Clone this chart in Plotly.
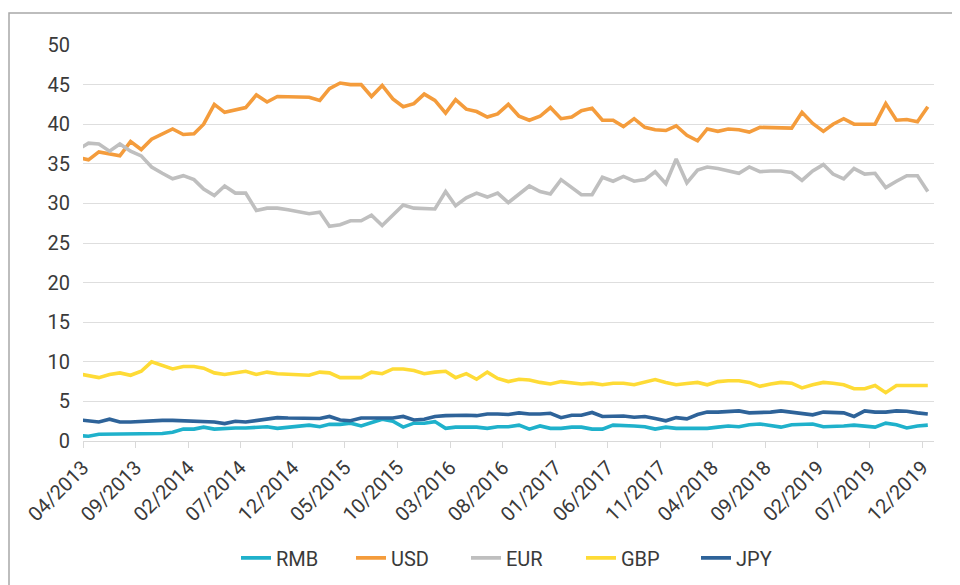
import pandas as pd
import plotly.graph_objects as go

# Monthly observations (03/2013 .. 12/2019), first point lies just before the axis start
months = pd.date_range("2013-03-01", periods=82, freq="MS")

usd = [35.8, 35.5, 36.5, 36.3, 36.0, 37.8, 36.8, 38.1, 38.8, 39.4, 38.7, 38.8, 40.0, 42.5, 41.5, 41.8, 42.1,
       43.7, 42.8, 43.5, 43.5, 43.5, 43.4, 43.0, 44.5, 45.2, 45.0,
       45.0, 43.5, 44.9, 43.2, 42.2, 42.6, 43.8, 43.0, 41.4, 43.1, 41.9, 41.6, 40.9, 41.3, 42.5, 41.0,
       40.5, 41.0, 42.1, 40.7, 40.9, 41.7, 42.0, 40.5, 40.5, 39.7, 40.7,
       39.6, 39.3, 39.2, 39.8, 38.6, 37.9, 39.4, 39.1, 39.4, 39.3, 39.0, 39.6, 39.6, 39.6, 39.5, 41.5,
       40.1, 39.1, 40.0, 40.7, 40.0, 40.0, 40.0, 42.6, 40.5, 40.6, 40.3, 42.2]

eur = [36.8, 37.6, 37.5, 36.6, 37.5, 36.6, 36.0, 34.6, 33.8, 33.1, 33.5, 33.0, 31.8, 31.0, 32.2, 31.3, 31.3,
       29.1, 29.4, 29.4, 29.2, 29.0, 28.7, 28.9, 27.1, 27.3, 27.8,
       27.8, 28.5, 27.2, 28.6, 29.8, 29.4, 29.3, 29.3, 31.5, 29.7, 30.7, 31.3, 30.8, 31.3, 30.1, 31.2,
       32.2, 31.5, 31.2, 33.0, 32.0, 31.1, 31.1, 33.3, 32.8, 33.4, 32.8,
       33.0, 34.0, 32.5, 35.6, 32.6, 34.2, 34.6, 34.4, 34.1, 33.8, 34.6, 34.0, 34.1, 34.1, 33.9, 32.9,
       34.1, 34.9, 33.7, 33.1, 34.4, 33.7, 33.8, 32.0, 32.8, 33.5, 33.5, 31.5]

gbp = [8.5, 8.3, 8.0, 8.4, 8.6, 8.3, 8.8, 10.0, 9.5, 9.1, 9.4, 9.4, 9.2, 8.6, 8.4, 8.6, 8.8,
       8.4, 8.7, 8.5, 8.4, 8.3, 8.3, 8.7, 8.6, 8.0, 8.0,
       8.0, 8.7, 8.5, 9.1, 9.1, 8.9, 8.5, 8.7, 8.8, 8.0, 8.5, 7.8, 8.7, 7.9, 7.5, 7.8,
       7.7, 7.4, 7.2, 7.5, 7.4, 7.2, 7.3, 7.1, 7.3, 7.3, 7.1,
       7.4, 7.75, 7.4, 7.1, 7.25, 7.4, 7.1, 7.5, 7.6, 7.6, 7.4, 6.9, 7.2, 7.4, 7.3, 6.7,
       7.1, 7.4, 7.3, 7.1, 6.6, 6.6, 7.0, 6.1, 7.0, 7.0, 7.0, 7.0]

jpy = [2.7, 2.6, 2.4, 2.75, 2.4, 2.4, 2.5, 2.6, 2.6, 2.6, 2.55, 2.6, 2.5, 2.4, 2.2, 2.5, 2.4,
       2.55, 2.75, 2.95, 2.9, 2.9, 2.85, 2.85, 3.1, 2.65, 2.55,
       2.9, 2.9, 2.85, 2.9, 3.1, 2.65, 2.75, 3.1, 3.2, 3.25, 3.25, 3.2, 3.4, 3.4, 3.35, 3.55,
       3.4, 3.4, 3.5, 2.95, 3.25, 3.25, 3.6, 3.1, 3.15, 3.15, 3.0,
       3.1, 2.85, 2.55, 2.95, 2.8, 3.35, 3.65, 3.65, 3.7, 3.8, 3.55, 3.55, 3.65, 3.8, 3.65, 3.45,
       3.3, 3.65, 3.55, 3.55, 3.1, 3.8, 3.65, 3.65, 3.8, 3.75, 3.55, 3.4]

rmb = [0.7, 0.6, 0.85, 0.85, 0.85, 0.85, 0.85, 0.85, 0.95, 1.1, 1.5, 1.5, 1.75, 1.5, 1.6, 1.65, 1.65,
       1.75, 1.8, 1.6, 1.75, 1.9, 2.0, 1.8, 2.1, 2.1, 2.25,
       1.9, 2.35, 2.75, 2.5, 1.75, 2.25, 2.25, 2.45, 1.6, 1.75, 1.75, 1.75, 1.6, 1.8, 1.8, 2.0,
       1.5, 1.9, 1.6, 1.6, 1.75, 1.75, 1.5, 1.5, 2.0, 2.0, 1.9,
       1.8, 1.5, 1.75, 1.6, 1.6, 1.55, 1.6, 1.75, 1.9, 1.8, 2.05, 2.15, 1.95, 1.75, 2.05, 2.05,
       2.15, 1.8, 1.8, 1.9, 2.0, 1.9, 1.75, 2.25, 2.05, 1.65, 1.9, 2.0]

series_names = ["RMB", "USD", "EUR", "GBP", "JPY"]
series_values = [rmb, usd, eur, gbp, jpy]
series_colors = ["#1fb1cb", "#f49c3c", "#bfbfbf", "#fedb36", "#2e6399"]

tick_dates = pd.date_range("2013-04-01", "2019-12-01", freq="5MS")

x_vals = months + pd.Timedelta(days=16)

fig = go.Figure()
for name, vals, col in zip(series_names, series_values, series_colors):
    fig.add_trace(go.Scatter(x=x_vals, y=vals, name=name, mode="lines",
                             line=dict(color=col, width=3.6)))

font_family = "Roboto, Lato, sans-serif"
txt_col = "#3a3a3a"

fig.update_layout(
    width=960, height=585,
    paper_bgcolor="white", plot_bgcolor="white",
    margin=dict(l=75, r=34, t=37, b=152),
    font=dict(family=font_family, size=20, color=txt_col),
    showlegend=True,
    legend=dict(orientation="h", xref="container", x=228 / 960, xanchor="left",
                yref="container", y=0.06, yanchor="middle",
                entrywidth=70, font=dict(size=20, color=txt_col), itemwidth=30),
    xaxis=dict(type="date", range=["2013-04-01", "2020-01-04"],
               tickvals=tick_dates, tickformat="%m/%Y", tickangle=-45,
               showgrid=False, showline=True, linecolor="#d9d9d9", linewidth=1,
               ticks="outside", ticklen=6, tickcolor="#d9d9d9",
               tickfont=dict(size=20, color=txt_col), zeroline=False),
    yaxis=dict(range=[0, 50], dtick=5, tick0=0, showgrid=True, gridcolor="#dedede",
               gridwidth=1, zeroline=False, showline=False, ticks="",
               ticklabelstandoff=12, tickfont=dict(size=20, color=txt_col)),
)

# panel frame of the original slide
fig.add_shape(type="rect", xref="paper", yref="paper",
              x0=(1 - 75) / 851, x1=1.2, y0=-0.6, y1=(433 - 5) / 396,
              line=dict(color="#a8a8a8", width=1.5), fillcolor="rgba(0,0,0,0)", layer="below")

fig.write_html("out.html")
